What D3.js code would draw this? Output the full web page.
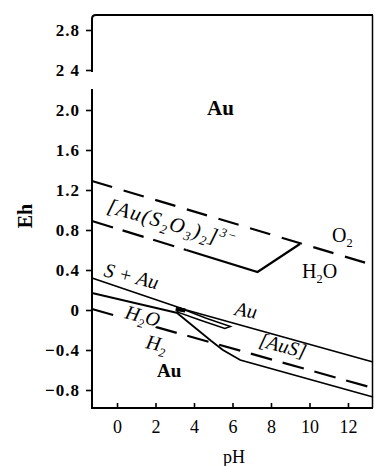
<!DOCTYPE html>
<html>
<head>
<meta charset="utf-8">
<script src="https://cdn.jsdelivr.net/npm/d3@7"></script>
<style>
  body { margin: 0; background: #fff; }
  svg { display: block; font-family: "Liberation Serif", "Times New Roman", serif; }
</style>
</head>
<body>
<svg width="374" height="466"></svg>
<script>
// tick values and labels
const xTicks = [0, 2, 4, 6, 8, 10, 12];
const yTicks = [2.8, 2.4, 2.0, 1.6, 1.2, 0.8, 0.4, 0, -0.4, -0.8];
const yLabels = ["2.8", "2 4", "2.0", "1.6", "1.2", "0.8", "0.4", "0", "\u22120.4", "\u22120.8"];

// boundaries, [pH, Eh]
const o2Line = [[-1.3, 1.29], [13.3, 0.45]];          // O2 / H2O (dashed)
const h2Line = [[-1.3, 0.01], [13.3, -0.78]];         // H2O / H2 (dashed)
const thioDashed = [[-1.3, 0.89], [3.6, 0.60]];
const thioSolid = [[3.6, 0.60], [7.3, 0.38], [9.5, 0.66]];
const sAuLine = [[-1.3, 0.32], [3.6, 0.0], [13.3, -0.52]];
const lowerS = [[-1.3, 0.17], [3.15, -0.03]];
const ausLower = [[3.12, -0.03], [4.9, -0.31], [5.5, -0.40], [6.4, -0.50], [13.3, -0.87]];
const lens = [[3.27, 0.02], [4.6, -0.08], [5.9, -0.165], [5.6, -0.185], [4.3, -0.10], [3.12, -0.02]];
const knot = [[3.05, 0.01], [3.55, -0.005]];

const svg = d3.select("svg");
const x = d3.scaleLinear().domain([-1.3, 13.3]).range([92, 373]);
const y = d3.scaleLinear().domain([-0.98, 2.95]).range([408, 15]);
const line = d3.line().x(d => x(d[0])).y(d => y(d[1]));

// frame (broken Eh axis between 2.4 and 2.2)
const frame = svg.append("g").attr("fill", "none").attr("stroke", "#000").attr("stroke-width", 2);
frame.append("path").attr("d", `M92,${y(2.38)} L92,19 Q92,15 96,15 L373,15`);
frame.append("path").attr("d", `M92,${y(2.21)} L92,408 L373,408`);
frame.append("path").attr("d", "M372.5,15 L372.5,408").attr("stroke-width", 1.5);

// axes
const yAxis = svg.append("g")
  .attr("transform", "translate(92,0)")
  .call(d3.axisLeft(y).tickValues(yTicks).tickFormat((d, i) => yLabels[i]).tickSize(6).tickPadding(6));
yAxis.select(".domain").remove();
yAxis.selectAll("line").attr("stroke-width", 1.6);
yAxis.selectAll("text")
  .attr("font-family", "Liberation Serif").attr("font-size", 17).attr("font-weight", "bold")
  .attr("letter-spacing", 1).attr("fill", "#000");

const xAxis = svg.append("g")
  .attr("transform", "translate(0,408)")
  .call(d3.axisBottom(x).tickValues(xTicks).tickSize(-5).tickPadding(12));
xAxis.select(".domain").remove();
xAxis.selectAll("line").attr("stroke-width", 1.6);
xAxis.selectAll("text")
  .attr("font-family", "Liberation Serif").attr("font-size", 18).attr("fill", "#000");

// boundaries
const g = svg.append("g").attr("fill", "none").attr("stroke", "#000").attr("stroke-width", 1.8);
g.append("path").attr("d", line(o2Line)).attr("stroke-dasharray", "21,12").attr("stroke-width", 2.2);
g.append("path").attr("d", line(h2Line)).attr("stroke-dasharray", "22,11").attr("stroke-width", 2.2);
g.append("path").attr("d", line(thioDashed)).attr("stroke-dasharray", "22,10").attr("stroke-width", 2.2);
g.append("path").attr("d", line(thioSolid)).attr("stroke-width", 2.2);
g.append("path").attr("d", line(sAuLine));
g.append("path").attr("d", line(lowerS));
g.append("path").attr("d", line(ausLower));
g.append("path").attr("d", line(lens) + "Z").attr("stroke-width", 1.4);
g.append("path").attr("d", line(knot)).attr("stroke-width", 4);

// labels
function label(px, py, parts, opts) {
  const t = svg.append("text")
    .attr("transform", `translate(${px},${py}) rotate(${opts.rot || 0})`)
    .attr("font-size", opts.size || 20)
    .attr("font-style", opts.italic ? "italic" : null)
    .attr("font-weight", opts.bold ? "bold" : null)
    .attr("letter-spacing", opts.ls || 0)
    .attr("text-anchor", opts.anchor || "start")
    .attr("fill", "#000");
  if (opts.halo) t.attr("stroke", "#fff").attr("stroke-width", 4).attr("paint-order", "stroke");
  let shift = 0;
  parts.forEach(p => {
    const [s, kind] = Array.isArray(p) ? p : [p, null];
    const target = kind === "sub" ? 5 : kind === "sup" ? -8 : 0;
    const ts = t.append("tspan").text(s).attr("dy", target - shift);
    if (kind) ts.attr("font-size", (opts.size || 20) * 0.62);
    shift = target;
  });
  return t;
}

label(207, 115, ["Au"], { size: 21, bold: true });
label(106, 212, ["[Au(S", ["2", "sub"], "O", ["3", "sub"], ")", ["2", "sub"], "]", ["3\u2212", "sup"]], { size: 21, italic: true, rot: 16, ls: 1.5 });
label(332, 242, ["O", ["2", "sub"]], { size: 20 });
label(302, 278, ["H", ["2", "sub"], "O"], { size: 20 });
label(103, 276, ["S + Au"], { size: 20, italic: true, rot: 14 });
label(234, 315, ["Au"], { size: 20, italic: true, rot: 10 });
label(258, 346, ["[AuS]"], { size: 20, italic: true, rot: 15 });
label(124, 318, ["H", ["2", "sub"], "O"], { size: 20, italic: true, rot: 15, halo: true });
label(145, 348, ["H", ["2", "sub"]], { size: 20, italic: true, rot: 12 });
label(157, 377, ["Au"], { size: 19, bold: true });

label(32, 216, ["Eh"], { size: 20, bold: true, rot: -90, anchor: "middle" });
label(234, 463, ["pH"], { size: 18, anchor: "middle" });
</script>
</body>
</html>
